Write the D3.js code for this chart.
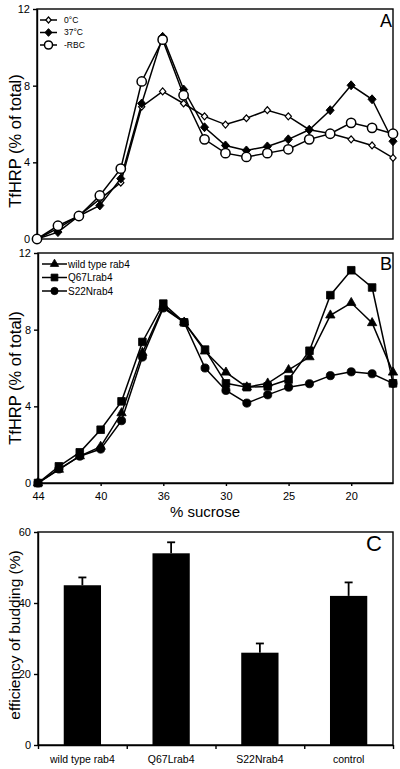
<!DOCTYPE html>
<html><head><meta charset="utf-8">
<script src="https://cdn.jsdelivr.net/npm/d3@7"></script>
<style>
html,body{margin:0;padding:0;background:#fff;}
svg{display:block;font-family:"Liberation Sans",Arial,sans-serif;}
</style></head>
<body>
<svg id="chart" width="400" height="769"></svg>
<script>
// ---- data ----
const fractionIndex = [0,1,2,3,4,5,6,7,8,9,10,11,12,13,14,15,16,17];
const sucroseTickIndex = [0,3,6,9,12,15];
const sucroseTickLabels = ["44","40","36","30","25","20"];
const yTicksAB = [0,4,8,12];

const seriesA_names = ["0\u00B0C","37\u00B0C","-RBC"];
const a0C  = [0,0.55,1.22,2.08,2.94,6.9,7.7,7.07,6.4,5.97,6.3,6.72,6.4,5.7,5.5,5.2,4.88,4.23];
const a37C = [0,0.36,1.2,1.75,3.15,7.07,10.55,7.8,5.83,4.88,4.62,4.83,5.2,5.7,6.72,8.02,7.29,5.1];
const aRBC = [0,0.69,1.2,2.27,3.67,8.22,10.4,7.5,5.2,4.48,4.28,4.48,4.68,5.2,5.49,6.06,5.8,5.49];

const seriesB_names = ["wild type rab4","Q67Lrab4","S22Nrab4"];
const bWT   = [0,0.7,1.4,1.9,3.65,6.8,9.2,8.38,6.87,5.77,5.0,5.2,5.9,6.57,8.75,9.4,8.35,5.77];
const bQ67L = [0,0.87,1.6,2.78,4.26,7.36,9.36,8.38,6.96,5.2,5.0,5.04,5.4,6.9,9.8,11.1,10.2,5.2];
const bS22N = [0,0.73,1.4,1.77,3.25,6.57,9.13,8.38,6.0,4.83,4.17,4.6,5.0,5.18,5.6,5.8,5.7,5.2];

const cCategories = ["wild type rab4","Q67Lrab4","S22Nrab4","control"];
const cValues = [45,54,26,42];
const cErrors = [2.2,3.1,2.6,3.8];
const yTicksC = [0,20,40,60];

// ---- drawing ----
const svg = d3.select("#chart");
const SW = 1.4;

// custom square diamond symbol (size = half-diagonal^2)
const diamondSq = {draw(ctx, size){const r=Math.sqrt(size); ctx.moveTo(0,-r);ctx.lineTo(r*0.9,0);ctx.lineTo(0,r);ctx.lineTo(-r*0.9,0);ctx.closePath();}};

function styleAxis(g){
  g.select(".domain").attr("stroke","#000").attr("stroke-width",SW);
  g.selectAll(".tick line").attr("stroke","#000").attr("stroke-width",SW);
  g.selectAll(".tick text").attr("fill","#000").attr("font-size","11px")
    .attr("font-family","'Liberation Sans',Arial,sans-serif");
}

function linePanel(opts){
  const x = d3.scaleLinear().domain([0,17]).range([opts.x0,opts.x1]);
  const y = d3.scaleLinear().domain([0,12]).range([opts.yb,opts.yt]);
  const g = svg.append("g");
  // frame
  g.append("rect").attr("x",opts.x0).attr("y",opts.yt).attr("width",opts.x1-opts.x0).attr("height",opts.yb-opts.yt)
    .attr("fill","none").attr("stroke","#000").attr("stroke-width",SW);
  const ya = g.append("g").attr("transform",`translate(${opts.x0},0)`)
    .call(d3.axisLeft(y).tickValues(yTicksAB).tickSize(4).tickPadding(3).tickSizeOuter(0));
  styleAxis(ya);
  if(opts.xaxis){
    const xa = g.append("g").attr("transform",`translate(0,${opts.yb})`)
      .call(d3.axisBottom(x).tickValues(sucroseTickIndex).tickFormat((d,i)=>sucroseTickLabels[i]).tickSize(3).tickPadding(6).tickSizeOuter(0));
    styleAxis(xa);
  }
  const line = d3.line().x((d,i)=>x(fractionIndex[i])).y(d=>y(d));
  opts.series.forEach(s=>{
    g.append("path").datum(s.values).attr("d",line).attr("fill","none").attr("stroke","#000").attr("stroke-width",1.5);
  });
  opts.series.forEach(s=>{
    g.selectAll(null).data(s.values).join("path")
      .attr("transform",(d,i)=>`translate(${x(fractionIndex[i])},${y(d)})`)
      .attr("d",d3.symbol().type(s.type).size(s.size))
      .attr("fill",s.fill).attr("stroke","#000").attr("stroke-width",s.sw);
  });
  // legend
  opts.series.forEach((s,i)=>{
    const ly = opts.legY + i*opts.legDy;
    g.append("line").attr("x1",opts.legX0).attr("x2",opts.legX1).attr("y1",ly).attr("y2",ly).attr("stroke","#000").attr("stroke-width",1.5);
    g.append("path").attr("transform",`translate(${(opts.legX0+opts.legX1)/2},${ly})`)
      .attr("d",d3.symbol().type(s.type).size(s.size*opts.legScale)).attr("fill",s.fill).attr("stroke","#000").attr("stroke-width",s.sw);
    g.append("text").attr("x",opts.legTx).attr("y",ly).attr("dy","0.35em").attr("font-size",opts.legFont).text(s.name);
  });
  g.append("text").attr("x",opts.letterX).attr("y",opts.letterY).attr("text-anchor","end").attr("font-size","18px").text(opts.letter);
  g.append("text").attr("transform",`translate(21,${opts.labelY}) rotate(-90)`).attr("text-anchor","middle").attr("font-size","16.5px").text("TfHRP (% of total)");
  return {x,y};
}

linePanel({x0:37,x1:393,yt:9,yb:239,xaxis:false,
  series:[
    {name:seriesA_names[0],values:a0C,type:diamondSq,size:12,fill:"#fff",sw:1.2},
    {name:seriesA_names[1],values:a37C,type:diamondSq,size:20,fill:"#000",sw:1},
    {name:seriesA_names[2],values:aRBC,type:d3.symbolCircle,size:68,fill:"#fff",sw:1.5}
  ],
  legY:20,legDy:12.5,legX0:40,legX1:57,legTx:64,legFont:"8.5px",legScale:0.75,
  letter:"A",letterX:392,letterY:27,labelY:141});

linePanel({x0:38,x1:393,yt:253,yb:483,xaxis:true,
  series:[
    {name:seriesB_names[0],values:bWT,type:d3.symbolTriangle,size:38,fill:"#000",sw:0.8},
    {name:seriesB_names[1],values:bQ67L,type:d3.symbolSquare,size:58,fill:"#000",sw:0.8},
    {name:seriesB_names[2],values:bS22N,type:d3.symbolCircle,size:52,fill:"#000",sw:0.8}
  ],
  legY:264,legDy:13.5,legX0:42,legX1:67,legTx:68,legFont:"10px",legScale:0.8,
  letter:"B",letterX:392,letterY:270,labelY:378});

svg.append("text").attr("x",205).attr("y",517).attr("text-anchor","middle").attr("font-size","15px").text("% sucrose");

// ---- panel C ----
(function(){
  const x0=38,x1=393,yt=532,yb=745;
  const x = d3.scaleBand().domain(cCategories).range([x0,x1]).paddingInner(0.58).paddingOuter(0.29);
  const xb = d3.scaleLinear().domain([0,cCategories.length]).range([x0,x1]);
  const y = d3.scaleLinear().domain([0,60]).range([yb,yt]);
  const g = svg.append("g");
  g.append("rect").attr("x",x0).attr("y",yt).attr("width",x1-x0).attr("height",yb-yt)
    .attr("fill","none").attr("stroke","#000").attr("stroke-width",SW);
  const ya = g.append("g").attr("transform",`translate(${x0},0)`)
    .call(d3.axisLeft(y).tickValues(yTicksC).tickSize(4).tickPadding(3).tickSizeOuter(0));
  styleAxis(ya);
  const xbnd = g.append("g").attr("transform",`translate(0,${yb})`)
    .call(d3.axisBottom(xb).tickValues(d3.range(cCategories.length+1)).tickFormat("").tickSize(4).tickSizeOuter(0));
  styleAxis(xbnd);
  const xl = g.append("g").attr("transform",`translate(0,${yb})`)
    .call(d3.axisBottom(x).tickSize(0).tickPadding(11));
  styleAxis(xl);
  xl.select(".domain").remove();
  xl.selectAll(".tick text").attr("font-size","10.5px");
  // error bars (behind bars)
  g.selectAll(null).data(cValues).join("line")
    .attr("x1",(d,i)=>x(cCategories[i])+x.bandwidth()/2).attr("x2",(d,i)=>x(cCategories[i])+x.bandwidth()/2)
    .attr("y1",d=>y(d)).attr("y2",(d,i)=>y(d+cErrors[i])).attr("stroke","#000").attr("stroke-width",1.8);
  g.selectAll(null).data(cValues).join("line")
    .attr("x1",(d,i)=>x(cCategories[i])+x.bandwidth()/2-4).attr("x2",(d,i)=>x(cCategories[i])+x.bandwidth()/2+4)
    .attr("y1",(d,i)=>y(d+cErrors[i])).attr("y2",(d,i)=>y(d+cErrors[i])).attr("stroke","#000").attr("stroke-width",1.8);
  g.selectAll(null).data(cValues).join("rect")
    .attr("x",(d,i)=>x(cCategories[i])).attr("width",x.bandwidth())
    .attr("y",d=>y(d)).attr("height",d=>yb-y(d)).attr("fill","#000");
  g.append("text").attr("x",382).attr("y",551).attr("text-anchor","end").attr("font-size","22px").text("C");
  g.append("text").attr("transform",`translate(20,635) rotate(-90)`).attr("text-anchor","middle").attr("font-size","15.5px").text("efficiency of budding (%)");
})();
</script>
</body></html>
